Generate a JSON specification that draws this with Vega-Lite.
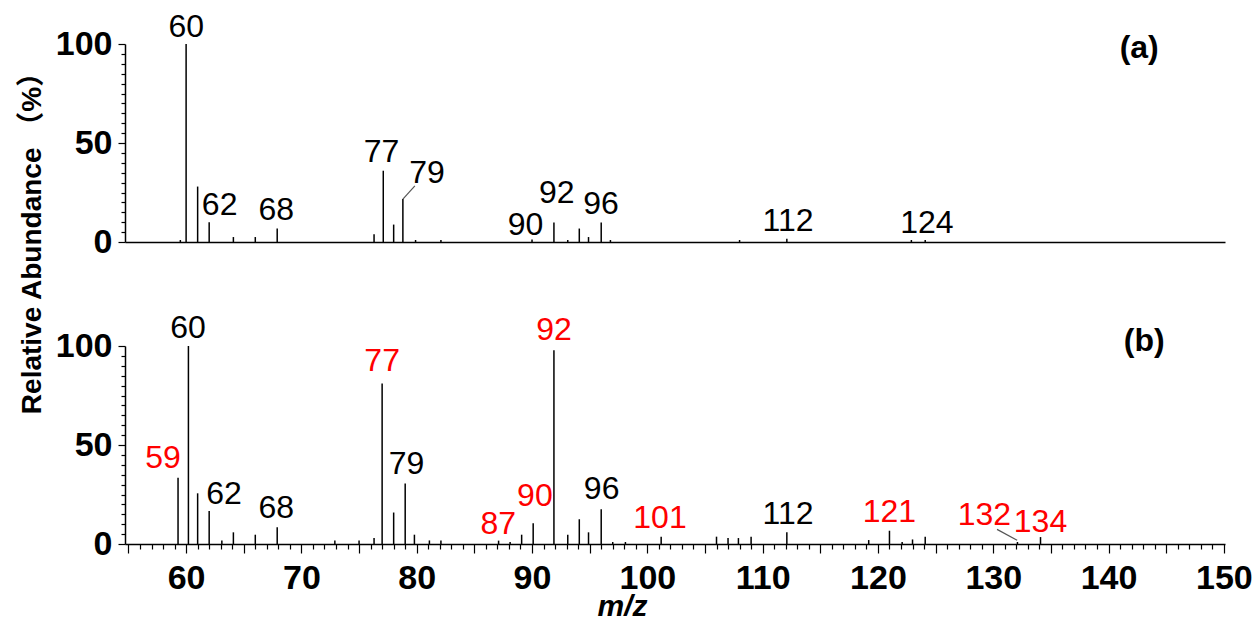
{
  "$schema": "https://vega.github.io/schema/vega-lite/v6.json",
  "autosize": {"type": "pad"},
  "padding": {"left": 17, "top": 10, "right": 10, "bottom": 10},
  "background": "white",
  "bounds": "flush",
  "spacing": 104,
  "config": {
    "view": {"stroke": null},
    "font": "Liberation Sans",
    "axis": {"grid": false, "domainColor": "black", "tickColor": "black", "labelColor": "black", "titleColor": "black", "domainWidth": 1.5, "tickWidth": 1.2, "labelFont": "Liberation Sans", "titleFont": "Liberation Sans"}
  },
  "datasets": {
    "peaksA": [
      {"mz": 59.5, "abundance": 1}, {"mz": 60.0, "abundance": 100}, {"mz": 61.0, "abundance": 28},
      {"mz": 62.0, "abundance": 10}, {"mz": 64.1, "abundance": 2.5}, {"mz": 66.0, "abundance": 2.5},
      {"mz": 67.9, "abundance": 6.8}, {"mz": 76.3, "abundance": 3.9}, {"mz": 77.1, "abundance": 36},
      {"mz": 78.0, "abundance": 8.8}, {"mz": 78.8, "abundance": 21.7}, {"mz": 79.9, "abundance": 1},
      {"mz": 82.1, "abundance": 1}, {"mz": 90.0, "abundance": 1.3}, {"mz": 91.9, "abundance": 9.8},
      {"mz": 93.1, "abundance": 1}, {"mz": 94.1, "abundance": 6.8}, {"mz": 94.9, "abundance": 2.5},
      {"mz": 96.0, "abundance": 9.8}, {"mz": 96.8, "abundance": 1}, {"mz": 108.0, "abundance": 1},
      {"mz": 112.1, "abundance": 1.7}, {"mz": 122.9, "abundance": 1}, {"mz": 124.1, "abundance": 1}
    ],
    "peaksB": [
      {"mz": 59.3, "abundance": 33.4}, {"mz": 60.2, "abundance": 100}, {"mz": 61.0, "abundance": 25.6},
      {"mz": 62.0, "abundance": 16.7}, {"mz": 63.1, "abundance": 1.8}, {"mz": 64.1, "abundance": 5.9},
      {"mz": 66.0, "abundance": 4.7}, {"mz": 67.9, "abundance": 8.5}, {"mz": 72.9, "abundance": 1.8},
      {"mz": 75.0, "abundance": 1.8}, {"mz": 76.3, "abundance": 3}, {"mz": 77.0, "abundance": 81},
      {"mz": 78.0, "abundance": 15.9}, {"mz": 79.0, "abundance": 30.6}, {"mz": 79.8, "abundance": 4.7},
      {"mz": 81.1, "abundance": 1.8}, {"mz": 82.1, "abundance": 1.8}, {"mz": 87.1, "abundance": 1.7},
      {"mz": 88.1, "abundance": 1}, {"mz": 89.1, "abundance": 4.7}, {"mz": 90.1, "abundance": 10.5},
      {"mz": 91.9, "abundance": 97.8}, {"mz": 93.1, "abundance": 4.7}, {"mz": 94.1, "abundance": 12.5},
      {"mz": 94.9, "abundance": 5.9}, {"mz": 96.0, "abundance": 17.6}, {"mz": 97.0, "abundance": 1},
      {"mz": 98.1, "abundance": 1}, {"mz": 101.2, "abundance": 3.7}, {"mz": 106.0, "abundance": 3.7},
      {"mz": 107.0, "abundance": 3}, {"mz": 107.9, "abundance": 3}, {"mz": 109.0, "abundance": 3.7},
      {"mz": 112.1, "abundance": 5.9}, {"mz": 119.2, "abundance": 2}, {"mz": 121.0, "abundance": 6.7},
      {"mz": 122.1, "abundance": 1}, {"mz": 123.0, "abundance": 2.3}, {"mz": 124.1, "abundance": 3.7},
      {"mz": 132.1, "abundance": 1}, {"mz": 134.1, "abundance": 3.5}
    ],
    "labelsA": [
      {"label": "60", "kind": "common", "lx": 60.02, "ly": 108.7},
      {"label": "62", "kind": "common", "lx": 62.91, "ly": 18.9},
      {"label": "68", "kind": "common", "lx": 67.82, "ly": 16.1},
      {"label": "77", "kind": "common", "lx": 76.94, "ly": 45.5},
      {"label": "79", "kind": "common", "lx": 80.9, "ly": 34.8},
      {"label": "90", "kind": "common", "lx": 89.44, "ly": 8.6},
      {"label": "92", "kind": "common", "lx": 92.14, "ly": 24.7},
      {"label": "96", "kind": "common", "lx": 95.98, "ly": 19.3},
      {"label": "112", "kind": "common", "lx": 112.2, "ly": 10.6},
      {"label": "124", "kind": "common", "lx": 124.25, "ly": 9.6}
    ],
    "labelsB": [
      {"label": "59", "kind": "new", "lx": 58.0, "ly": 43.2},
      {"label": "60", "kind": "common", "lx": 60.16, "ly": 109.2},
      {"label": "62", "kind": "common", "lx": 63.29, "ly": 25.1},
      {"label": "68", "kind": "common", "lx": 67.82, "ly": 18.4},
      {"label": "77", "kind": "new", "lx": 77.0, "ly": 92.4},
      {"label": "79", "kind": "common", "lx": 79.12, "ly": 40.2},
      {"label": "87", "kind": "new", "lx": 87.07, "ly": 10.0},
      {"label": "90", "kind": "new", "lx": 90.25, "ly": 24.4},
      {"label": "92", "kind": "new", "lx": 91.9, "ly": 107.9},
      {"label": "96", "kind": "common", "lx": 96.04, "ly": 27.8},
      {"label": "101", "kind": "new", "lx": 101.1, "ly": 13.3},
      {"label": "112", "kind": "common", "lx": 112.2, "ly": 15.0},
      {"label": "121", "kind": "new", "lx": 121.0, "ly": 16.3},
      {"label": "132", "kind": "new", "lx": 129.23, "ly": 14.5},
      {"label": "134", "kind": "new", "lx": 134.1, "ly": 11.3}
    ],
    "leadersA": [{"x1": 78.8, "y1": 21.7, "x2": 79.84, "y2": 28.3}],
    "leadersB": [{"x1": 132.07, "y1": 1.9, "x2": 130.33, "y2": 7.4}],
    "tagA": [{"tag": "(a)", "tx": 142.66, "ty": 98}],
    "tagB": [{"tag": "(b)", "tx": 143.1, "ty": 102.5}]
  },
  "vconcat": [
    {
      "width": 1100,
      "height": 198,
      "layer": [
        {
          "data": {"name": "peaksA"},
          "mark": {"type": "rule", "color": "black", "strokeWidth": 1.5},
          "encoding": {
            "x": {"field": "mz", "type": "quantitative", "scale": {"domain": [54.7, 150.1], "nice": false, "zero": false},
                  "axis": {"ticks": false, "labels": false, "title": null}},
            "y": {"field": "abundance", "type": "quantitative", "scale": {"domain": [0, 100], "nice": false},
                  "axis": {"values": [0,5,10,15,20,25,30,35,40,45,50,55,60,65,70,75,80,85,90,95,100],
                           "tickCount": 200, "format": "d",
                           "labelExpr": "datum.value % 50 === 0 ? datum.label : ''",
                           "tickSize": {"condition": {"test": "datum.value % 50 === 0", "value": 7}, "value": 4},
                           "labelFontSize": 34, "labelFontWeight": "bold", "labelPadding": 6, "labelOverlap": false,
                           "title": "Relative Abundance （%）", "titleFontSize": 28, "titleFontWeight": "bold",
                           "titleFont": "Liberation Sans, Noto Sans CJK SC",
                           "titleAngle": -90, "titleX": -93, "titleY": 192, "titleAlign": "center", "titleBaseline": "middle"}},
            "y2": {"datum": 0}
          }
        },
        {
          "data": {"name": "leadersA"},
          "mark": {"type": "rule", "color": "#555555", "strokeWidth": 1.2},
          "encoding": {
            "x": {"field": "x1", "type": "quantitative"},
            "y": {"field": "y1", "type": "quantitative"},
            "x2": {"field": "x2"},
            "y2": {"field": "y2"}
          }
        },
        {
          "data": {"name": "labelsA"},
          "mark": {"type": "text", "fontSize": 32, "align": "center", "baseline": "middle", "font": "Liberation Sans"},
          "encoding": {
            "x": {"field": "lx", "type": "quantitative"},
            "y": {"field": "ly", "type": "quantitative"},
            "text": {"field": "label"},
            "color": {"field": "kind", "type": "nominal", "scale": {"domain": ["common", "new"], "range": ["#000000", "#ff0000"]}, "legend": null}
          }
        },
        {
          "data": {"name": "tagA"},
          "mark": {"type": "text", "fontSize": 32, "fontWeight": "bold", "align": "center", "baseline": "middle", "color": "black", "font": "Liberation Sans"},
          "encoding": {
            "x": {"field": "tx", "type": "quantitative"},
            "y": {"field": "ty", "type": "quantitative"},
            "text": {"field": "tag"}
          }
        }
      ]
    },
    {
      "width": 1100,
      "height": 198,
      "layer": [
        {
          "data": {"name": "peaksB"},
          "mark": {"type": "rule", "color": "black", "strokeWidth": 1.5},
          "encoding": {
            "x": {"field": "mz", "type": "quantitative", "scale": {"domain": [54.7, 150.1], "nice": false, "zero": false},
                  "axis": {"values": [55,56,57,58,59,60,61,62,63,64,65,66,67,68,69,70,71,72,73,74,75,76,77,78,79,80,81,82,83,84,85,86,87,88,89,90,91,92,93,94,95,96,97,98,99,100,101,102,103,104,105,106,107,108,109,110,111,112,113,114,115,116,117,118,119,120,121,122,123,124,125,126,127,128,129,130,131,132,133,134,135,136,137,138,139,140,141,142,143,144,145,146,147,148,149,150],
                           "tickCount": 200, "format": "d",
                           "labelExpr": "datum.value % 10 === 0 ? datum.label : ''",
                           "tickSize": {"condition": {"test": "datum.value % 5 === 0", "value": 9}, "value": 5},
                           "labelFontSize": 34, "labelFontWeight": "bold", "labelPadding": 8, "labelOverlap": false, "labelFlush": false,
                           "title": "m/z", "titleFontSize": 30, "titleFontStyle": "italic", "titleFontWeight": "bold",
                           "titleX": 497, "titleY": 62, "titleAlign": "center", "titleBaseline": "middle"}},
            "y": {"field": "abundance", "type": "quantitative", "scale": {"domain": [0, 100], "nice": false},
                  "axis": {"values": [0,5,10,15,20,25,30,35,40,45,50,55,60,65,70,75,80,85,90,95,100],
                           "tickCount": 200, "format": "d",
                           "labelExpr": "datum.value % 50 === 0 ? datum.label : ''",
                           "tickSize": {"condition": {"test": "datum.value % 50 === 0", "value": 7}, "value": 4},
                           "labelFontSize": 34, "labelFontWeight": "bold", "labelPadding": 6, "labelOverlap": false,
                           "title": null}},
            "y2": {"datum": 0}
          }
        },
        {
          "data": {"name": "leadersB"},
          "mark": {"type": "rule", "color": "#555555", "strokeWidth": 1.2},
          "encoding": {
            "x": {"field": "x1", "type": "quantitative"},
            "y": {"field": "y1", "type": "quantitative"},
            "x2": {"field": "x2"},
            "y2": {"field": "y2"}
          }
        },
        {
          "data": {"name": "labelsB"},
          "mark": {"type": "text", "fontSize": 32, "align": "center", "baseline": "middle", "font": "Liberation Sans"},
          "encoding": {
            "x": {"field": "lx", "type": "quantitative"},
            "y": {"field": "ly", "type": "quantitative"},
            "text": {"field": "label"},
            "color": {"field": "kind", "type": "nominal", "scale": {"domain": ["common", "new"], "range": ["#000000", "#ff0000"]}, "legend": null}
          }
        },
        {
          "data": {"name": "tagB"},
          "mark": {"type": "text", "fontSize": 32, "fontWeight": "bold", "align": "center", "baseline": "middle", "color": "black", "font": "Liberation Sans"},
          "encoding": {
            "x": {"field": "tx", "type": "quantitative"},
            "y": {"field": "ty", "type": "quantitative"},
            "text": {"field": "tag"}
          }
        }
      ]
    }
  ]
}
